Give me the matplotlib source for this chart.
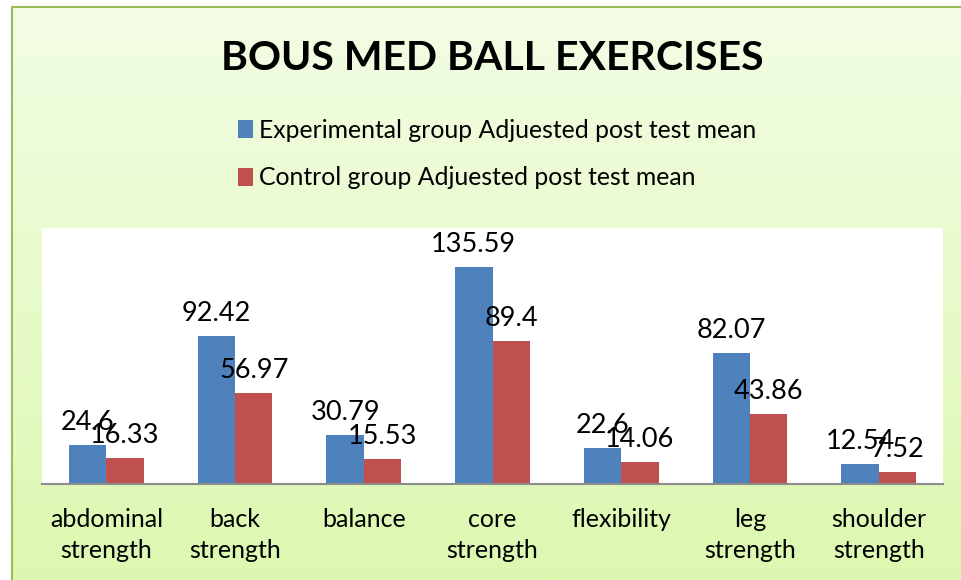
import numpy as np
import matplotlib
matplotlib.use("Agg")
import matplotlib.pyplot as plt
from matplotlib.patches import Rectangle

plt.rcParams["font.family"] = ["Lato", "DejaVu Sans"]

categories = ["abdominal\nstrength", "back\nstrength", "balance", "core\nstrength",
              "flexibility", "leg\nstrength", "shoulder\nstrength"]
experimental = [24.6, 92.42, 30.79, 135.59, 22.6, 82.07, 12.54]
control = [16.33, 56.97, 15.53, 89.4, 14.06, 43.86, 7.52]
exp_labels = ["24.6", "92.42", "30.79", "135.59", "22.6", "82.07", "12.54"]
ctl_labels = ["16.33", "56.97", "15.53", "89.4", "14.06", "43.86", "7.52"]

BLUE = "#4f81bd"
RED = "#c0504d"
W, H = 961, 580

fig = plt.figure(figsize=(W / 100, H / 100), dpi=100)
fig.patch.set_facecolor("white")

# gradient background with green border
bg = fig.add_axes([12 / W, 0, 1 - 12 / W, 1 - 7 / H], zorder=-2)
grad = np.linspace(0, 1, 256)[:, None]
top = np.array([243, 253, 229]) / 255
bot = np.array([220, 248, 176]) / 255
img = top[None, None, :] * (1 - grad[:, :, None]) + bot[None, None, :] * grad[:, :, None]
bg.imshow(img, aspect="auto", extent=[0, 1, 0, 1])
bg.set_xlim(0, 1)
bg.set_ylim(0, 1)
bg.axis("off")
fig.patches.append(Rectangle((12 / W, -0.01), 1, 1 - 7 / H + 0.01, transform=fig.transFigure,
                             fill=False, edgecolor="#9bbb59", linewidth=1.5, zorder=-1))

ax = fig.add_axes([42 / W, (H - 484) / H, 901 / W, 256 / H])
ax.set_facecolor("white")
x = np.arange(len(categories))
w = 0.29
b1 = ax.bar(x - w / 2, experimental, w, color=BLUE, label="Experimental group Adjuested post test mean")
b2 = ax.bar(x + w / 2, control, w, color=RED, label="Control group Adjuested post test mean")
ax.bar_label(b1, labels=exp_labels, padding=7, fontsize=19.5)
ax.bar_label(b2, labels=ctl_labels, padding=7, fontsize=19.5)

ax.set_xlim(-0.5, len(categories) - 0.5)
ax.set_ylim(0, 160)
ax.set_yticks([])
ax.set_xticks(x)
ax.set_xticklabels(categories, fontsize=18, linespacing=1.42)
ax.tick_params(axis="x", length=0, pad=17)
for s in ["top", "right", "left"]:
    ax.spines[s].set_visible(False)
ax.spines["bottom"].set_color("#8c8c8c")
ax.spines["bottom"].set_linewidth(1.5)

fig.text(492 / W, 1 - 58 / H, "BOUS MED BALL EXERCISES", ha="center", va="center",
         fontsize=29.5, fontweight="bold")
fig.legend(handles=[b1, b2], loc="center left", bbox_to_anchor=(238 / W, 1 - 154 / H),
           frameon=False, fontsize=17.8, handlelength=0.6, handleheight=0.75,
           handletextpad=0.25, labelspacing=1.0, borderpad=0, borderaxespad=0)

fig.savefig("out.png", dpi=100)
